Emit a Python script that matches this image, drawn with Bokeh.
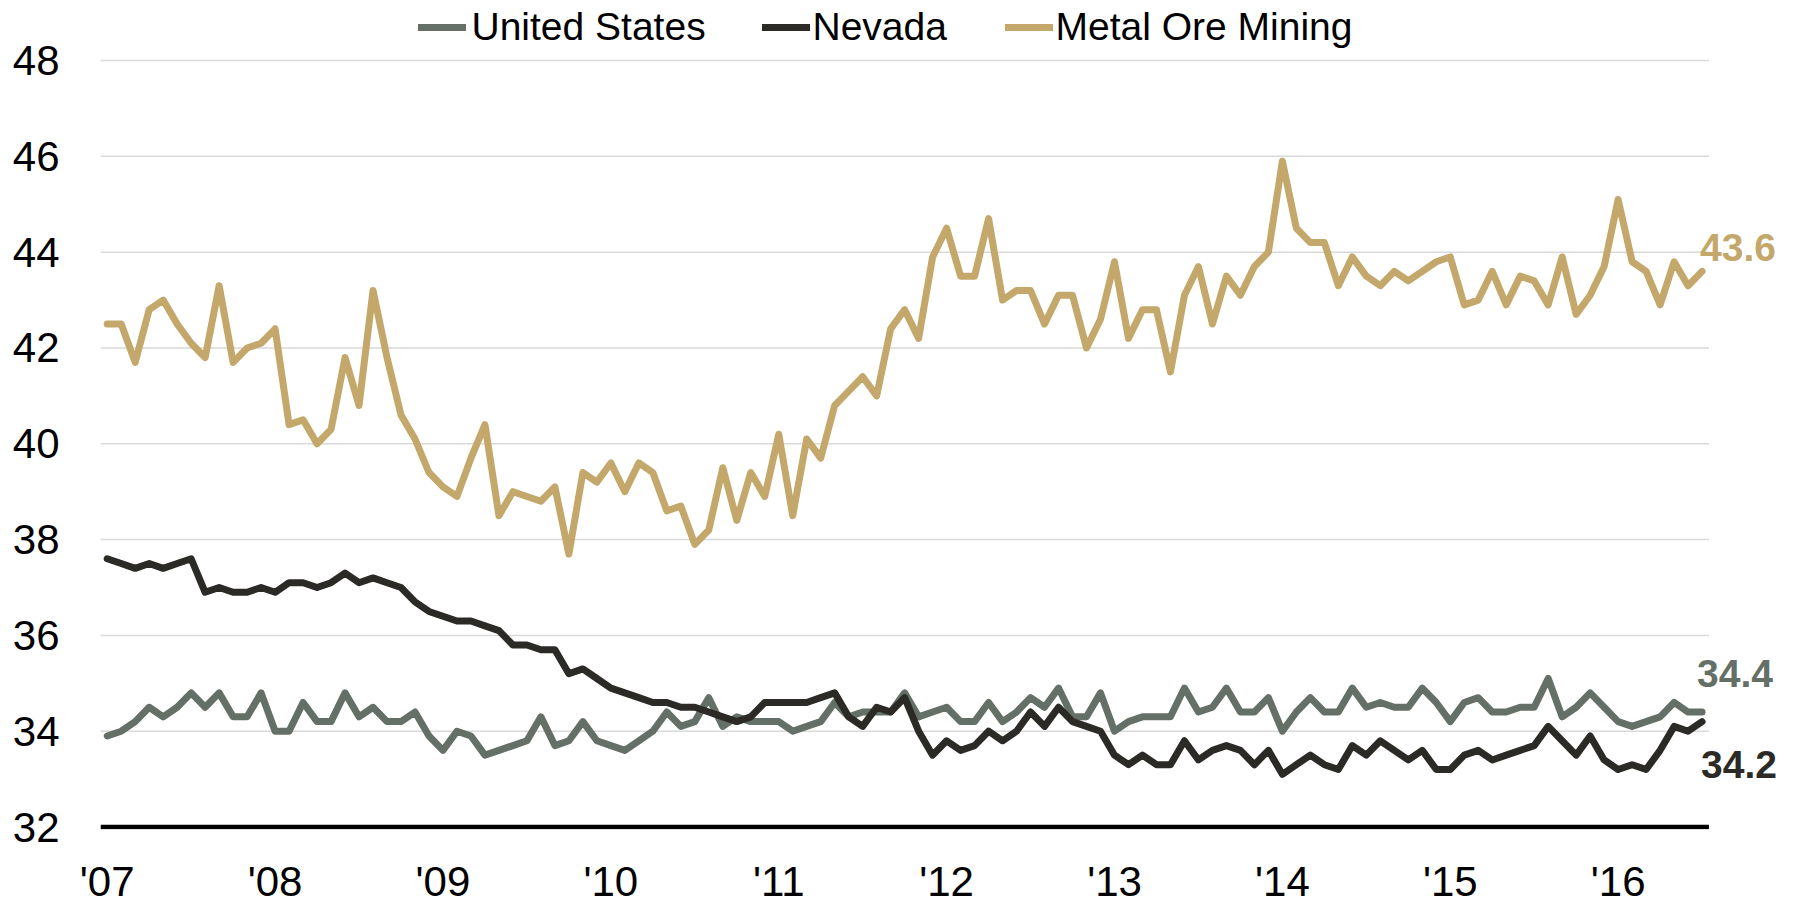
import numpy as np
from bokeh.plotting import figure
from bokeh.models import (FixedTicker, Legend, LegendItem, Range1d, ColumnDataSource, Label)
from bokeh.embed import file_html
from bokeh.resources import INLINE

# ---------------- data (monthly, Jan 2007 - Jul 2016) ----------------
year_labels = ["'07", "'08", "'09", "'10", "'11", "'12", "'13", "'14", "'15", "'16"]
series_names = ["United States", "Nevada", "Metal Ore Mining"]

united_states = [
    33.9, 34.0, 34.2, 34.5, 34.3, 34.5, 34.8, 34.5, 34.8, 34.3, 34.3, 34.8,
    34.0, 34.0, 34.6, 34.2, 34.2, 34.8, 34.3, 34.5, 34.2, 34.2, 34.4, 33.9,
    33.6, 34.0, 33.9, 33.5, 33.6, 33.7, 33.8, 34.3, 33.7, 33.8, 34.2, 33.8,
    33.7, 33.6, 33.8, 34.0, 34.4, 34.1, 34.2, 34.7, 34.1, 34.3, 34.2, 34.2,
    34.2, 34.0, 34.1, 34.2, 34.6, 34.3, 34.4, 34.4, 34.4, 34.8, 34.3, 34.4,
    34.5, 34.2, 34.2, 34.6, 34.2, 34.4, 34.7, 34.5, 34.9, 34.3, 34.3, 34.8,
    34.0, 34.2, 34.3, 34.3, 34.3, 34.9, 34.4, 34.5, 34.9, 34.4, 34.4, 34.7,
    34.0, 34.4, 34.7, 34.4, 34.4, 34.9, 34.5, 34.6, 34.5, 34.5, 34.9, 34.6,
    34.2, 34.6, 34.7, 34.4, 34.4, 34.5, 34.5, 35.1, 34.3, 34.5, 34.8, 34.5,
    34.2, 34.1, 34.2, 34.3, 34.6, 34.4, 34.4,
]

nevada = [
    37.6, 37.5, 37.4, 37.5, 37.4, 37.5, 37.6, 36.9, 37.0, 36.9, 36.9, 37.0,
    36.9, 37.1, 37.1, 37.0, 37.1, 37.3, 37.1, 37.2, 37.1, 37.0, 36.7, 36.5,
    36.4, 36.3, 36.3, 36.2, 36.1, 35.8, 35.8, 35.7, 35.7, 35.2, 35.3, 35.1,
    34.9, 34.8, 34.7, 34.6, 34.6, 34.5, 34.5, 34.4, 34.3, 34.2, 34.3, 34.6,
    34.6, 34.6, 34.6, 34.7, 34.8, 34.3, 34.1, 34.5, 34.4, 34.7, 34.0, 33.5,
    33.8, 33.6, 33.7, 34.0, 33.8, 34.0, 34.4, 34.1, 34.5, 34.2, 34.1, 34.0,
    33.5, 33.3, 33.5, 33.3, 33.3, 33.8, 33.4, 33.6, 33.7, 33.6, 33.3, 33.6,
    33.1, 33.3, 33.5, 33.3, 33.2, 33.7, 33.5, 33.8, 33.6, 33.4, 33.6, 33.2,
    33.2, 33.5, 33.6, 33.4, 33.5, 33.6, 33.7, 34.1, 33.8, 33.5, 33.9, 33.4,
    33.2, 33.3, 33.2, 33.6, 34.1, 34.0, 34.2,
]

metal_ore_mining = [
    42.5, 42.5, 41.7, 42.8, 43.0, 42.5, 42.1, 41.8, 43.3, 41.7, 42.0, 42.1,
    42.4, 40.4, 40.5, 40.0, 40.3, 41.8, 40.8, 43.2, 41.8, 40.6, 40.1, 39.4,
    39.1, 38.9, 39.7, 40.4, 38.5, 39.0, 38.9, 38.8, 39.1, 37.7, 39.4, 39.2,
    39.6, 39.0, 39.6, 39.4, 38.6, 38.7, 37.9, 38.2, 39.5, 38.4, 39.4, 38.9,
    40.2, 38.5, 40.1, 39.7, 40.8, 41.1, 41.4, 41.0, 42.4, 42.8, 42.2, 43.9,
    44.5, 43.5, 43.5, 44.7, 43.0, 43.2, 43.2, 42.5, 43.1, 43.1, 42.0, 42.6,
    43.8, 42.2, 42.8, 42.8, 41.5, 43.1, 43.7, 42.5, 43.5, 43.1, 43.7, 44.0,
    45.9, 44.5, 44.2, 44.2, 43.3, 43.9, 43.5, 43.3, 43.6, 43.4, 43.6, 43.8,
    43.9, 42.9, 43.0, 43.6, 42.9, 43.5, 43.4, 42.9, 43.9, 42.7, 43.1, 43.7,
    45.1, 43.8, 43.6, 42.9, 43.8, 43.3, 43.6,
]

y_ticks = [32, 34, 36, 38, 40, 42, 44, 46, 48]

# ---------------- styling ----------------
C_US = "#647067"
C_NV = "#2b2a27"
C_MO = "#c4a86b"
FONT = "Liberation Sans"

W, H = 1796, 907
LEFT, BOTTOM = 100, 77          # borders around the plotting frame (px)
PX_PER_MONTH = 13.99
PX_PER_UNIT = 47.96
BASE_PAD = 2.5                  # px of frame below the 32 baseline

months = np.arange(len(united_states))
year_ticks = [12 * k for k in range(len(year_labels))]

frame_w = W - LEFT
frame_h = H - BOTTOM
x0 = -0.48
x_end = x0 + frame_w / PX_PER_MONTH
y0 = y_ticks[0] - BASE_PAD / PX_PER_UNIT
y_end = y0 + frame_h / PX_PER_UNIT
plot_x_end = len(months) - 1 + 0.49      # right end of gridlines / baseline

p = figure(width=W, height=H, output_backend="svg", toolbar_location=None,
           x_range=Range1d(x0, x_end), y_range=Range1d(y0, y_end),
           min_border_left=LEFT, min_border_right=0,
           min_border_top=0, min_border_bottom=BOTTOM)
p.outline_line_color = None
p.background_fill_color = "white"
p.border_fill_color = "white"

# x axis: only the year labels
p.xaxis.ticker = FixedTicker(ticks=year_ticks)
p.xaxis.major_label_overrides = {t: lab for t, lab in zip(year_ticks, year_labels)}
p.xaxis.axis_line_color = None
p.xaxis.major_tick_line_color = None
p.xaxis.minor_tick_line_color = None
p.xaxis.major_tick_out = 0
p.xaxis.major_tick_in = 0
p.xaxis.major_label_standoff = 28
p.xaxis.major_label_text_font = FONT
p.xaxis.major_label_text_font_size = "42px"
p.xaxis.major_label_text_color = "black"

p.yaxis.ticker = FixedTicker(ticks=y_ticks)
p.yaxis.axis_line_color = None
p.yaxis.major_tick_line_color = None
p.yaxis.minor_tick_line_color = None
p.yaxis.major_tick_out = 0
p.yaxis.major_tick_in = 0
p.yaxis.major_label_standoff = 41
p.yaxis.major_label_text_font = FONT
p.yaxis.major_label_text_font_size = "42px"
p.yaxis.major_label_text_color = "black"

p.xgrid.visible = False
p.ygrid.visible = False

# horizontal gridlines (stop at the end of the time axis) and the baseline
p.segment(x0=[x0] * (len(y_ticks) - 1), x1=[plot_x_end] * (len(y_ticks) - 1),
          y0=y_ticks[1:], y1=y_ticks[1:], line_color="#d9d9d9", line_width=1.5)
p.segment(x0=[x0], x1=[plot_x_end], y0=[y_ticks[0]], y1=[y_ticks[0]],
          line_color="black", line_width=4.5)

# series
src = ColumnDataSource(dict(x=months, us=united_states, nv=nevada, mo=metal_ore_mining))
r_mo = p.line("x", "mo", source=src, line_color=C_MO, line_width=7, line_join="round", line_cap="round")
r_us = p.line("x", "us", source=src, line_color=C_US, line_width=7, line_join="round", line_cap="round")
r_nv = p.line("x", "nv", source=src, line_color=C_NV, line_width=7, line_join="round", line_cap="round")

# end labels
last = len(months) - 1
for arr, col, xo, yo in [(metal_ore_mining, C_MO, -2, 24),
                         (united_states, C_US, -5, 39),
                         (nevada, C_NV, -1, -43)]:
    p.add_layout(Label(x=last, y=arr[-1], text=f"{arr[-1]:.1f}", x_offset=xo, y_offset=yo,
                       text_font=FONT, text_font_size="39px", text_font_style="bold",
                       text_color=col, text_align="left", text_baseline="middle"))

# legend (three separate entries across the top)
for name, rend, xloc, stand in zip(series_names, [r_us, r_nv, r_mo],
                                   [317.5, 661.5, 904.5], [6, 3, 3]):
    leg = Legend(items=[LegendItem(label=name, renderers=[rend])],
                 location=(xloc, frame_h - 53), orientation="horizontal",
                 padding=0, spacing=0, margin=0,
                 border_line_alpha=0, background_fill_alpha=0,
                 glyph_width=48, glyph_height=50, label_height=50,
                 label_standoff=stand,
                 label_text_font=FONT, label_text_font_size="39px",
                 label_text_color="black")
    p.add_layout(leg)

open("out.html", "w").write(file_html(p, INLINE))
